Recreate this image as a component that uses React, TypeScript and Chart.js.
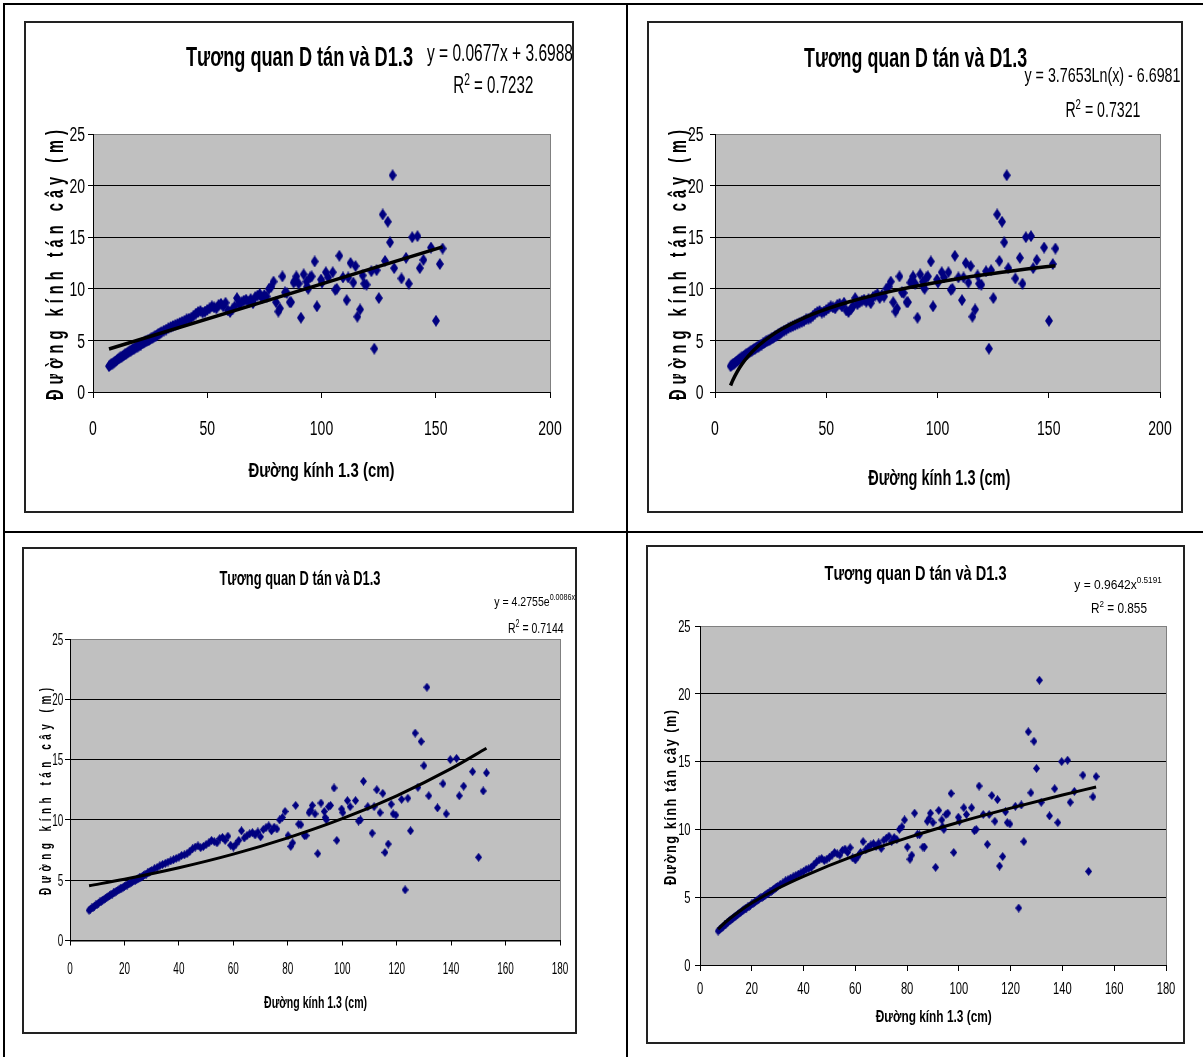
import { useEffect, useRef } from 'react';
import { Chart, registerables } from 'chart.js';

Chart.register(...registerables);

// ---------- data (same sample in all four panels) ----------
const DBH_CM: number[] = [
  7, 7.5, 8, 8.5, 9, 9.5, 10, 10.5, 11, 11.5, 12, 12.5, 13, 13.5, 14, 14.5, 15, 15.5, 16, 16.5,
  17, 17.5, 18, 18.5, 19, 19.5, 20, 20.5, 21, 21.5, 22, 22.5, 23, 23.5, 24, 24.5, 25, 25.5, 26, 26.5,
  27, 27.5, 28, 28.5, 29, 29.5, 30, 31, 32, 33, 34, 35, 36, 37, 38, 39, 40, 41, 42, 43,
  44, 45, 46, 47, 48, 49, 50, 51, 52, 53, 54, 55, 56, 57, 58, 59, 60, 61, 62, 63,
  64, 65, 66, 67, 68, 69, 70, 71, 72, 73, 74, 75, 76, 77, 78, 79,
  80.1, 81.1, 81.8, 82.9, 84.0, 84.8, 86.1, 86.7, 87.8, 88.5, 89.0, 90.0, 91.0, 92.2, 93.4, 93.7, 94.2, 95.0, 95.7, 97.0,
  98.0, 99.8, 100.2, 101.9, 102.9, 104.9, 106.0, 106.7, 107.8, 109.4, 111.0, 111.7, 112.7, 113.9, 114.9, 115.7, 116.9, 118.0, 118.7, 119.7,
  121.8, 123.1, 124.1, 125.1, 126.8, 127.8, 129.0, 130.0, 131.1, 131.8, 135.0, 137.0, 138.2, 139.7, 142.0, 143.0, 144.6, 147.9, 150.1, 151.8,
  153.0,
];
const CROWN_M: number[] = [
  2.5, 2.6, 2.7, 2.75, 2.85, 2.95, 3.0, 3.1, 3.2, 3.25, 3.35, 3.4, 3.5, 3.55, 3.65, 3.7, 3.8, 3.85, 3.95, 4.0,
  4.1, 4.15, 4.2, 4.3, 4.35, 4.4, 4.5, 4.55, 4.6, 4.7, 4.75, 4.8, 4.9, 4.95, 5.0, 5.05, 5.1, 5.2, 5.25, 5.3,
  5.4, 5.45, 5.5, 5.6, 5.65, 5.75, 5.8, 5.95, 6.05, 6.2, 6.3, 6.4, 6.5, 6.6, 6.7, 6.8, 6.9, 7.05, 7.1, 7.2,
  7.4, 7.6, 7.75, 7.85, 7.7, 7.8, 7.95, 8.1, 8.3, 8.2, 8.1, 8.45, 8.55, 8.3, 8.65, 7.9, 7.75, 8.0, 8.3, 9.1,
  8.5, 8.7, 8.85, 8.95, 8.75, 9.0, 8.6, 9.2, 9.35, 9.5, 9.1, 9.4, 9.25, 10.0, 10.2, 10.7,
  8.7, 7.8, 8.1, 11.2, 9.65, 9.6, 8.7, 8.7, 10.6, 10.8, 11.2, 10.5, 7.2, 11.4, 10.7, 10.2, 10.0, 11.1, 11.2, 12.65,
  8.3, 10.9, 10.6, 11.6, 11.1, 11.6, 9.9, 10.0, 13.2, 11.1, 8.9, 11.1, 12.5, 10.6, 12.2, 7.3, 8.0, 11.3, 10.5, 10.4,
  11.7, 4.2, 11.8, 9.1, 17.2, 12.7, 16.5, 14.5, 21.0, 12.0, 11.0, 13.0, 10.5, 15.0, 15.1, 12.0, 12.8, 14.0, 6.9, 12.4,
  13.9,
];

// trend lines
const TREND_LIN_X: number[] = [7, 153];
const TREND_LIN_Y: number[] = [4.17, 14.06];
const TREND_LOG_X: number[] = [7, 8, 10, 12, 15, 20, 25, 30, 40, 50, 60, 80, 100, 120, 140, 153];
const TREND_LOG_Y: number[] = [0.63, 1.13, 1.97, 2.66, 3.5, 4.58, 5.42, 6.11, 7.19, 8.03, 8.72, 9.8, 10.64, 11.33, 11.91, 12.24];
const TREND_EXP_X: number[] = [7, 20, 40, 60, 80, 100, 120, 140, 153];
const TREND_EXP_Y: number[] = [4.54, 5.08, 6.03, 7.16, 8.51, 10.1, 12.0, 14.25, 15.94];
const TREND_POW_X: number[] = [7, 10, 15, 20, 30, 40, 60, 80, 100, 120, 140, 153];
const TREND_POW_Y: number[] = [2.65, 3.19, 3.93, 4.57, 5.64, 6.54, 8.08, 9.38, 10.53, 11.57, 12.54, 13.13];

// tick labels
const X_TICKS_200: number[] = [0, 50, 100, 150, 200];
const X_TICKS_180: number[] = [0, 20, 40, 60, 80, 100, 120, 140, 160, 180];
const Y_TICKS: number[] = [0, 5, 10, 15, 20, 25];

// texts
const TITLE = 'Tương quan D tán và D1.3';
const Y_TITLE = 'Đường kính tán cây (m)';
const X_TITLE = 'Đường kính 1.3 (cm)';

// ---------- presentation ----------
const TEXT_FONT = "'Liberation Sans', Arial, sans-serif";

type Seg = { t: string; sup?: boolean };
type TextItem = {
  segs: Seg[];
  x: number;
  y: number;
  size: number;
  bold?: boolean;
  w?: number;
  sx?: number;
  left?: boolean;
  rot?: boolean;
  gap?: number;
};
type Box = { l: number; t: number; r: number; b: number };
type Spec = {
  frame: Box;
  plot: Box;
  xMax: number;
  xTicks: number[];
  trendX: number[];
  trendY: number[];
  trendW: number;
  tickSize: number;
  tickSx: number;
  xLabelBase: number;
  yLabelRight: number;
  xTickLen: number;
  yTickLen: number;
  dw: number;
  dh: number;
  texts: TextItem[];
};

const SPECS: Spec[] = [
  {
    frame: { l: 24, t: 21, r: 574, b: 513 },
    plot: { l: 93, t: 134, r: 550, b: 392 },
    xMax: 200, xTicks: X_TICKS_200,
    trendX: TREND_LIN_X, trendY: TREND_LIN_Y, trendW: 3.5,
    tickSize: 20, tickSx: 0.7, xLabelBase: 435, yLabelRight: 85, xTickLen: 6, yTickLen: 5,
    dw: 8, dh: 12,
    texts: [
      { segs: [{ t: TITLE }], x: 299.5, y: 66, size: 28, bold: true, w: 227 },
      { segs: [{ t: 'y = 0.0677x + 3.6988' }], x: 500, y: 61, size: 23, w: 146 },
      { segs: [{ t: 'R' }, { t: '2', sup: true }, { t: ' = 0.7232' }], x: 493.3, y: 93.3, size: 23, w: 80 },
      { segs: [{ t: Y_TITLE }], rot: true, x: 63, y: 265, size: 23, bold: true, w: 270, gap: 5 },
      { segs: [{ t: X_TITLE }], x: 321.5, y: 476.7, size: 21, bold: true, w: 146 },
    ],
  },
  {
    frame: { l: 647, t: 21, r: 1183, b: 513 },
    plot: { l: 715, t: 134, r: 1160, b: 392 },
    xMax: 200, xTicks: X_TICKS_200,
    trendX: TREND_LOG_X, trendY: TREND_LOG_Y, trendW: 3.5,
    tickSize: 20, tickSx: 0.7, xLabelBase: 435, yLabelRight: 703.5, xTickLen: 6, yTickLen: 5,
    dw: 8, dh: 12,
    texts: [
      { segs: [{ t: TITLE }], x: 915.6, y: 67, size: 28, bold: true, w: 223 },
      { segs: [{ t: 'y = 3.7653Ln(x) - 6.6981' }], x: 1102.5, y: 81.7, size: 21, w: 156 },
      { segs: [{ t: 'R' }, { t: '2', sup: true }, { t: ' = 0.7321' }], x: 1102.9, y: 117.3, size: 22, w: 75 },
      { segs: [{ t: Y_TITLE }], rot: true, x: 686, y: 265, size: 23, bold: true, w: 270, gap: 5 },
      { segs: [{ t: X_TITLE }], x: 939.3, y: 485, size: 22, bold: true, w: 142 },
    ],
  },
  {
    frame: { l: 22, t: 547, r: 577, b: 1034 },
    plot: { l: 70, t: 639, r: 560, b: 940.5 },
    xMax: 180, xTicks: X_TICKS_180,
    trendX: TREND_EXP_X, trendY: TREND_EXP_Y, trendW: 3,
    tickSize: 16, tickSx: 0.62, xLabelBase: 973.8, yLabelRight: 63.3, xTickLen: 5, yTickLen: 5,
    dw: 7, dh: 9,
    texts: [
      { segs: [{ t: TITLE }], x: 300, y: 585, size: 20, bold: true, w: 161 },
      { segs: [{ t: 'y = 4.2755e' }, { t: '0.0086x', sup: true }], x: 494.3, y: 605.6, size: 13.5, sx: 0.78, left: true },
      { segs: [{ t: 'R' }, { t: '2', sup: true }, { t: ' = 0.7144' }], x: 535.8, y: 633, size: 15.5, w: 55.5 },
      { segs: [{ t: Y_TITLE }], rot: true, x: 51, y: 791.4, size: 16, bold: true, w: 207, gap: 4.5 },
      { segs: [{ t: X_TITLE }], x: 315.6, y: 1008, size: 17, bold: true, w: 103 },
    ],
  },
  {
    frame: { l: 646, t: 545, r: 1185, b: 1044 },
    plot: { l: 700, t: 626, r: 1166, b: 965 },
    xMax: 180, xTicks: X_TICKS_180,
    trendX: TREND_POW_X, trendY: TREND_POW_Y, trendW: 3,
    tickSize: 16, tickSx: 0.7, xLabelBase: 994.3, yLabelRight: 690.6, xTickLen: 6, yTickLen: 5,
    dw: 7, dh: 9,
    texts: [
      { segs: [{ t: TITLE }], x: 915.5, y: 580, size: 20, bold: true, w: 182 },
      { segs: [{ t: 'y = 0.9642x' }, { t: '0.5191', sup: true }], x: 1074.3, y: 588.5, size: 13.5, sx: 0.89, left: true },
      { segs: [{ t: 'R' }, { t: '2', sup: true }, { t: ' = 0.855' }], x: 1119, y: 612.5, size: 14.5, w: 56 },
      { segs: [{ t: Y_TITLE }], rot: true, x: 675.5, y: 797.4, size: 16, bold: true, w: 175, gap: 1.5 },
      { segs: [{ t: X_TITLE }], x: 933.8, y: 1021.7, size: 16, bold: true, w: 116 },
    ],
  },
];

function fontStr(size: number, bold?: boolean) {
  return `${bold ? 'bold ' : ''}${size}px ${TEXT_FONT}`;
}

function drawItem(ctx: CanvasRenderingContext2D, it: TextItem, ox: number, oy: number) {
  ctx.save();
  ctx.fillStyle = '#000';
  ctx.textAlign = 'left';
  ctx.textBaseline = 'alphabetic';
  const supScale = 0.68;
  if (it.rot) {
    const text = it.segs.map((s) => s.t).join('');
    ctx.font = fontStr(it.size, it.bold);
    const chars = Array.from(text);
    const widths = chars.map((c) => ctx.measureText(c).width);
    const natural = widths.reduce((a, b) => a + b, 0);
    const gap = it.gap ?? 0;
    const total = it.w ?? natural;
    const sx = (total - gap * (chars.length - 1)) / natural;
    ctx.translate(it.x - ox, it.y - oy);
    ctx.rotate(-Math.PI / 2);
    let pos = -total / 2;
    chars.forEach((c, i) => {
      ctx.save();
      ctx.translate(pos, 0);
      ctx.scale(sx, 1);
      ctx.fillText(c, 0, 0);
      ctx.restore();
      pos += widths[i] * sx + gap;
    });
  } else {
    const parts = it.segs.map((s) => {
      const sz = s.sup ? it.size * supScale : it.size;
      ctx.font = fontStr(sz, it.bold);
      return { s, sz, w: ctx.measureText(s.t).width };
    });
    const natural = parts.reduce((a, p) => a + p.w, 0);
    const sx = it.sx ?? (it.w ? it.w / natural : 1);
    const total = natural * sx;
    const start = it.left ? it.x : it.x - total / 2;
    ctx.translate(start - ox, it.y - oy);
    ctx.scale(sx, 1);
    let pos = 0;
    parts.forEach((p) => {
      ctx.font = fontStr(p.sz, it.bold);
      ctx.fillText(p.s.t, pos, p.s.sup ? -it.size * 0.38 : 0);
      pos += p.w;
    });
  }
  ctx.restore();
}

function makeDiamond(w: number, h: number, color: string) {
  const c = document.createElement('canvas');
  c.width = w;
  c.height = h;
  const g = c.getContext('2d')!;
  g.fillStyle = color;
  g.beginPath();
  g.moveTo(w / 2, 0);
  g.lineTo(w, h / 2);
  g.lineTo(w / 2, h);
  g.lineTo(0, h / 2);
  g.closePath();
  g.fill();
  return c;
}

function Panel({ spec }: { spec: Spec }) {
  const ref = useRef<HTMLCanvasElement>(null);
  const W = spec.frame.r - spec.frame.l;
  const H = spec.frame.b - spec.frame.t;

  useEffect(() => {
    const canvas = ref.current;
    if (!canvas) return;
    const ox = spec.frame.l;
    const oy = spec.frame.t;
    const pl = spec.plot.l - ox;
    const pr = spec.plot.r - ox;
    const pt = spec.plot.t - oy;
    const pb = spec.plot.b - oy;
    const diamond = makeDiamond(spec.dw, spec.dh, '#000080');

    // condensed tick labels, placed through the chart's own scales
    const drawTickLabels = (chart: any) => {
      const ctx = chart.ctx as CanvasRenderingContext2D;
      const xs = chart.scales.x;
      const ys = chart.scales.y;
      const cap = spec.tickSize * 0.716;
      ctx.save();
      ctx.font = `${spec.tickSize}px ${TEXT_FONT}`;
      ctx.fillStyle = '#000';
      ctx.textAlign = 'left';
      ctx.textBaseline = 'alphabetic';
      xs.ticks.forEach((t: any) => {
        const label = String(t.label ?? t.value);
        const w = ctx.measureText(label).width * spec.tickSx;
        const px = xs.getPixelForValue(t.value);
        ctx.save();
        ctx.translate(px - w / 2, spec.xLabelBase - oy);
        ctx.scale(spec.tickSx, 1);
        ctx.fillText(label, 0, 0);
        ctx.restore();
      });
      ys.ticks.forEach((t: any) => {
        const label = String(t.label ?? t.value);
        const w = ctx.measureText(label).width * spec.tickSx;
        const py = ys.getPixelForValue(t.value);
        ctx.save();
        ctx.translate(spec.yLabelRight - ox - w, py + cap / 2);
        ctx.scale(spec.tickSx, 1);
        ctx.fillText(label, 0, 0);
        ctx.restore();
      });
      ctx.restore();
    };

    const decor = {
      id: 'decor',
      beforeDraw(chart: any) {
        const { ctx, chartArea: a } = chart;
        ctx.save();
        ctx.fillStyle = '#ffffff';
        ctx.fillRect(0, 0, W, H);
        ctx.fillStyle = '#c0c0c0';
        ctx.fillRect(a.left, a.top, a.right - a.left, a.bottom - a.top);
        ctx.strokeStyle = '#808080';
        ctx.lineWidth = 1;
        ctx.strokeRect(Math.round(a.left) + 0.5, Math.round(a.top) + 0.5, Math.round(a.right - a.left), Math.round(a.bottom - a.top));
        ctx.restore();
      },
      afterDraw(chart: any) {
        const ctx = chart.ctx as CanvasRenderingContext2D;
        drawTickLabels(chart);
        spec.texts.forEach((t) => drawItem(ctx, t, ox, oy));
        ctx.save();
        ctx.strokeStyle = '#222';
        ctx.lineWidth = 2;
        ctx.strokeRect(1, 1, W - 2, H - 2);
        ctx.restore();
      },
    };

    const chart = new Chart(canvas, {
      type: 'scatter',
      data: {
        datasets: [
          {
            type: 'line',
            data: spec.trendX.map((x, i) => ({ x, y: spec.trendY[i] })),
            borderColor: '#000',
            borderWidth: spec.trendW,
            pointRadius: 0,
            fill: false,
            cubicInterpolationMode: 'monotone',
            order: 0,
          } as any,
          {
            data: DBH_CM.map((x, i) => ({ x, y: CROWN_M[i] })),
            pointStyle: diamond as any,
            pointRadius: 4,
            backgroundColor: '#000080',
            borderColor: '#000080',
            order: 1,
          } as any,
        ],
      },
      options: {
        responsive: false,
        maintainAspectRatio: false,
        animation: false,
        devicePixelRatio: 1,
        events: [],
        layout: { padding: { left: 0, top: pt, right: W - pr, bottom: 0 } },
        plugins: {
          legend: { display: false },
          tooltip: { enabled: false },
          title: { display: false },
        },
        scales: {
          x: {
            type: 'linear',
            min: 0,
            max: spec.xMax,
            afterBuildTicks: (s: any) => {
              s.ticks = spec.xTicks.map((v) => ({ value: v }));
            },
            afterFit: (s: any) => {
              s.height = H - pb;
            },
            ticks: { display: false, maxRotation: 0, autoSkip: false },
            grid: {
              display: true,
              drawOnChartArea: false,
              drawTicks: true,
              tickLength: spec.xTickLen,
              color: '#000',
              lineWidth: 1,
            },
            border: { display: true, color: '#000', width: 1 },
          },
          y: {
            type: 'linear',
            min: 0,
            max: 25,
            afterBuildTicks: (s: any) => {
              s.ticks = Y_TICKS.map((v) => ({ value: v }));
            },
            afterFit: (s: any) => {
              s.width = pl;
            },
            ticks: { display: false },
            grid: {
              display: true,
              drawOnChartArea: true,
              drawTicks: true,
              tickLength: spec.yTickLen,
              color: (c: any) => (c.tick && c.tick.value === 25 ? '#808080' : '#000'),
              tickColor: '#000',
              lineWidth: 1,
            },
            border: { display: true, color: '#000', width: 1 },
          },
        },
      } as any,
      plugins: [decor],
    });
    return () => chart.destroy();
  }, [spec, W, H]);

  return (
    <canvas
      ref={ref}
      width={W}
      height={H}
      style={{ position: 'absolute', left: spec.frame.l, top: spec.frame.t, width: W, height: H }}
    />
  );
}

const line = (l: number, t: number, w: number, h: number) => (
  <div style={{ position: 'absolute', left: l, top: t, width: w, height: h, background: '#000' }} />
);

export default function App() {
  return (
    <div
      style={{
        position: 'absolute',
        left: 0,
        top: 0,
        width: 1203,
        height: 1057,
        background: '#fff',
        overflow: 'hidden',
      }}
    >
      {line(3, 3, 1200, 2)}
      {line(3, 3, 2, 1054)}
      {line(626, 3, 2, 1054)}
      {line(3, 531, 1200, 2)}
      {SPECS.map((s, i) => (
        <Panel key={i} spec={s} />
      ))}
    </div>
  );
}
